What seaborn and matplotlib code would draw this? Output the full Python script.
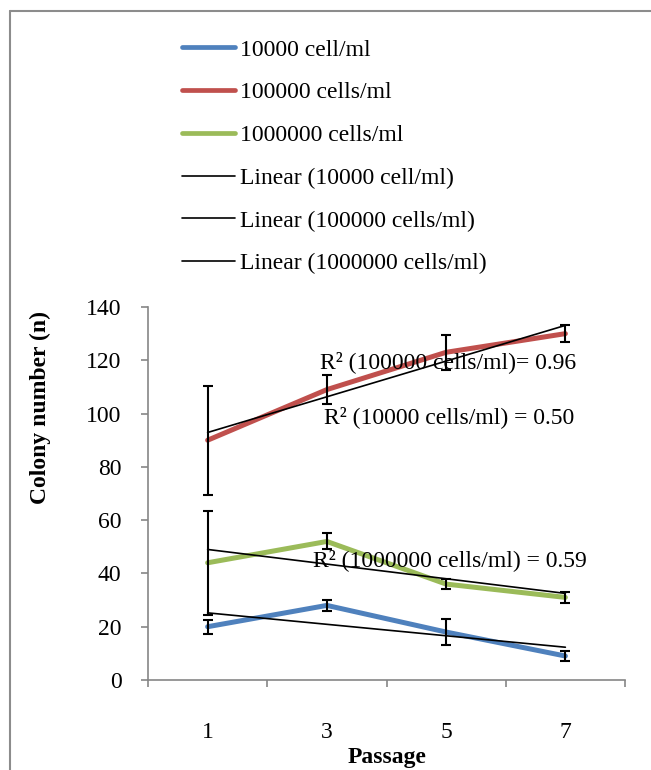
import numpy as np
import pandas as pd
import matplotlib
matplotlib.use("Agg")
import matplotlib.pyplot as plt
from matplotlib.lines import Line2D
import seaborn as sns

# Data
passage = [1, 3, 5, 7]
series_names = ["10000 cell/ml", "100000 cells/ml", "1000000 cells/ml"]
trend_names = ["Linear (10000 cell/ml)", "Linear (100000 cells/ml)", "Linear (1000000 cells/ml)"]
colony_10k = [20, 28, 18, 9]
colony_100k = [90, 109, 123, 130]
colony_1m = [44, 52, 36, 31]
err_10k = [2.7, 2, 5, 2]
err_100k = [20.5, 5.3, 6.5, 3.3]
err_1m = [19.5, 3, 2, 2]
r2_labels = ["R\u00b2 (100000 cells/ml)= 0.96",
             "R\u00b2 (10000 cells/ml) = 0.50",
             "R\u00b2 (1000000 cells/ml) = 0.59"]
colors = ["#4F81BD", "#C0504D", "#9BBB59"]

sns.set_style("white")
plt.rcParams["font.family"] = ["Liberation Serif", "DejaVu Serif"]
plt.rcParams["font.size"] = 17
plt.rcParams["text.color"] = "black"
plt.rcParams["xtick.color"] = "black"
plt.rcParams["ytick.color"] = "black"

fig = plt.figure(figsize=(6.51, 7.7), dpi=100)
ax = fig.add_axes([148 / 651, 90 / 770, 477 / 651, 373 / 770])

values = [colony_10k, colony_100k, colony_1m]
errors = [err_10k, err_100k, err_1m]

# data lines
for name, vals, col in zip(series_names, values, colors):
    sns.lineplot(x=passage, y=vals, color=col, lw=3.6, label=name, ax=ax,
                 solid_capstyle="round", zorder=2, legend=False)

# error bars
for vals, err in zip(values, errors):
    ax.errorbar(passage, vals, yerr=err, fmt="none", ecolor="black",
                elinewidth=1.5, capsize=3.6, capthick=1.5, zorder=3)

# linear trendlines
for name, vals in zip(trend_names, values):
    sns.regplot(x=np.array(passage), y=np.array(vals), ci=None, scatter=False,
                color="black", line_kws=dict(lw=1.2, zorder=4), label=name, ax=ax)

# R squared labels
ax.text(2.89, 119.4, r2_labels[0], va="center", ha="left", zorder=5)
ax.text(2.96, 98.7, r2_labels[1], va="center", ha="left", zorder=5)
ax.text(2.76, 45, r2_labels[2], va="center", ha="left", zorder=5)

ax.set_xlim(0, 8)
ax.set_ylim(0, 140)
ax.set_yticks(range(0, 141, 20))
ax.set_xticks([0, 2, 4, 6, 8])
ax.set_xticklabels([])
ax.set_xticks(passage, minor=True)
ax.set_xticklabels([str(p) for p in passage], minor=True)
ax.tick_params(axis="x", which="minor", bottom=True, length=0, pad=30)
ax.tick_params(axis="x", which="major", bottom=True, length=5, width=1.2,
               color="#868686", direction="out")
ax.tick_params(axis="y", left=True, length=5, width=1.2, color="#868686",
               direction="out", pad=14)
for side in ["top", "right"]:
    ax.spines[side].set_visible(False)
for side in ["left", "bottom"]:
    ax.spines[side].set_color("#868686")
    ax.spines[side].set_linewidth(1.2)

ax.set_xlabel("")
ax.set_ylabel("")
fig.text(387 / 651, 1 - 757 / 770, "Passage", ha="center", va="center",
         fontweight="bold", fontsize=17)
fig.text(40 / 651, 1 - 408 / 770, "Colony number (n)", ha="center", va="center",
         rotation=90, fontweight="bold", fontsize=17)

# legend
handles, labels = ax.get_legend_handles_labels()
order = series_names + trend_names
hmap = dict(zip(labels, handles))
leg_handles = [Line2D([0], [0], color=hmap[n].get_color(), lw=3.4 if n in series_names else 1.2,
                      solid_capstyle="round") for n in order]
fig.legend(leg_handles, order, loc="upper left", bbox_to_anchor=(182 / 651, 1 - 39 / 770),
           frameon=False, handlelength=2.25, handletextpad=0.2, labelspacing=0.9,
           borderaxespad=0, borderpad=0, fontsize=17)

# outer frame (left and top edges visible)
fig.add_artist(Line2D([10 / 651, 10 / 651], [0, 1 - 11 / 770], color="#8c8c8c", lw=1.5,
                      transform=fig.transFigure))
fig.add_artist(Line2D([10 / 651, 1], [1 - 11 / 770, 1 - 11 / 770], color="#8c8c8c", lw=1.5,
                      transform=fig.transFigure))

fig.savefig("out.png", dpi=100)
